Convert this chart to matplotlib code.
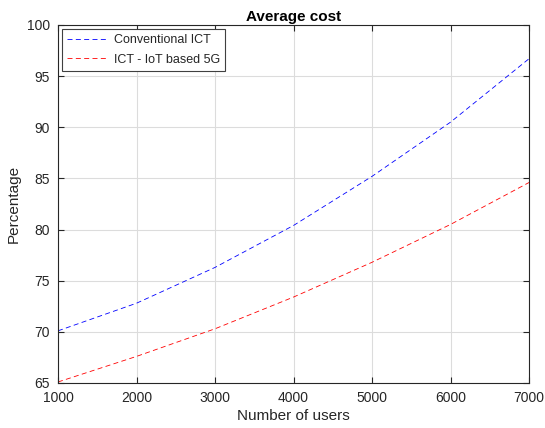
import numpy as np
import matplotlib
matplotlib.use("Agg")
import matplotlib.pyplot as plt

users = [1000, 2000, 3000, 4000, 5000, 6000, 7000]
conventional = [70.1, 72.8, 76.3, 80.4, 85.2, 90.5, 96.7]
iot_5g = [65.1, 67.6, 70.3, 73.4, 76.8, 80.5, 84.6]

plt.rcParams['font.family'] = ['Arial', 'Liberation Sans', 'DejaVu Sans']

fig = plt.figure(figsize=(5.45, 4.28), dpi=100)
ax = fig.add_axes([58/545, 1-383/428, 471/545, 358/428])

ax.plot(users, conventional, '--', color='#0000ff', lw=0.6, dashes=(6, 4),
        label='Conventional ICT')
ax.plot(users, iot_5g, '--', color='#ff0000', lw=0.6, dashes=(6, 4),
        label='ICT - IoT based 5G')

ax.set_xlim(1000, 7000)
ax.set_ylim(65, 100)
ax.set_xticks(np.arange(1000, 7001, 1000))
ax.set_yticks(np.arange(65, 101, 5))
ax.grid(True, color='#dcdcdc', lw=0.8)
ax.set_axisbelow(True)
ax.tick_params(direction='in', length=4, labelsize=10, colors='#262626',
               top=True, right=True, pad=6)
for s in ax.spines.values():
    s.set_color('#262626')
    s.set_linewidth(0.8)

ax.set_title('Average cost', fontsize=11, fontweight='bold', pad=3)
ax.set_xlabel('Number of users', fontsize=11, color='#262626', labelpad=3)
ax.set_ylabel('Percentage', fontsize=11, color='#262626', labelpad=4)

leg = ax.legend(loc='upper left', fontsize=9, fancybox=False, framealpha=1,
                edgecolor='#404040', borderaxespad=0.3, handlelength=3.2,
                handletextpad=0.5, borderpad=0.45, labelspacing=0.6)
leg.get_frame().set_linewidth(0.8)
for t in leg.get_texts():
    t.set_color('#262626')

fig.savefig('out.png', dpi=100)
